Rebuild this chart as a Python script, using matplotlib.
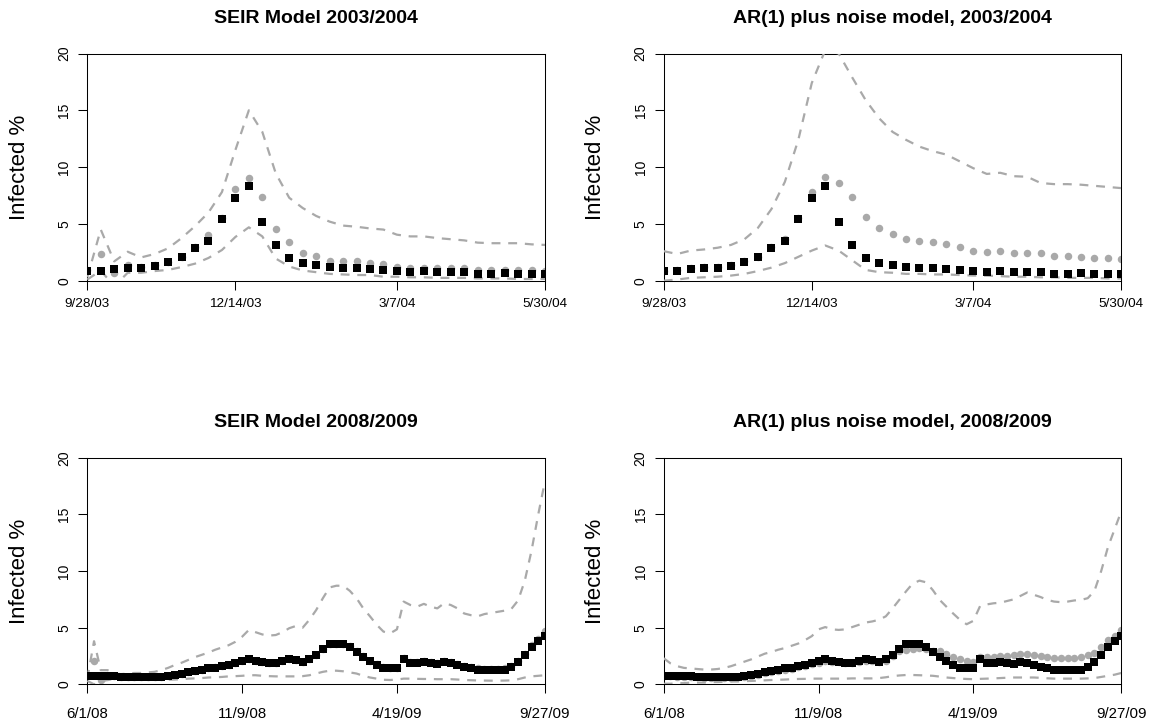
import matplotlib
matplotlib.use("Agg")
import matplotlib.pyplot as plt

plt.rcParams['font.family'] = ['Liberation Sans', 'DejaVu Sans']

# ---------------- data: season 2003/2004 (35 weekly points) ----------------
labels_0304 = ['9/28/03', '12/14/03', '3/7/04', '5/30/04']
ticks_0304 = [0, 11, 23, 34]
observed_0304 = [0.84, 0.84, 1.0, 1.1, 1.15, 1.3, 1.65, 2.1, 2.9, 3.5,
                 5.4, 7.3, 8.3, 5.2, 3.1, 2.0, 1.55, 1.4, 1.2, 1.1,
                 1.1, 1.0, 0.9, 0.84, 0.78, 0.84, 0.78, 0.78, 0.78, 0.63,
                 0.63, 0.7, 0.62, 0.6, 0.62]
seir_mean_0304 = [0.9, 2.35, 0.7, 1.4, 1.25, 1.4, 1.65, 2.1, 3.0, 4.0,
                  5.5, 8.1, 9.05, 7.35, 4.55, 3.4, 2.45, 2.15, 1.75, 1.7,
                  1.7, 1.6, 1.45, 1.25, 1.15, 1.15, 1.15, 1.1, 1.1, 0.95,
                  0.9, 0.9, 0.9, 0.9, 0.85]
seir_upper_0304 = [0.3, 4.5, 1.7, 2.55, 2.05, 2.35, 2.85, 3.75, 4.8, 6.0,
                   7.8, 11.5, 15.0, 13.1, 9.45, 7.3, 6.4, 5.7, 5.2, 4.85,
                   4.75, 4.6, 4.5, 4.05, 3.9, 3.9, 3.75, 3.65, 3.55, 3.35,
                   3.3, 3.3, 3.3, 3.2, 3.15]
seir_lower_0304 = [0.1, 0.9, -0.5, 0.7, 0.7, 0.85, 0.95, 1.2, 1.5, 2.0,
                   2.7, 3.85, 4.7, 3.9, 1.95, 1.25, 0.9, 0.75, 0.6, 0.55,
                   0.5, 0.5, 0.35, 0.35, 0.3, 0.3, 0.25, 0.25, 0.25, 0.2,
                   0.2, 0.2, 0.15, 0.15, 0.15]
ar_mean_0304 = [0.85, 0.9, 1.1, 1.2, 1.25, 1.35, 1.7, 2.1, 3.0, 3.7,
                5.5, 7.8, 9.15, 8.6, 7.35, 5.6, 4.6, 4.1, 3.65, 3.5,
                3.4, 3.25, 3.0, 2.65, 2.55, 2.6, 2.45, 2.45, 2.4, 2.2,
                2.2, 2.05, 2.0, 2.0, 1.9]
ar_upper_0304 = [2.6, 2.35, 2.65, 2.75, 2.9, 3.15, 3.65, 4.65, 6.3, 8.7,
                 12.4, 17.4, 20.3, 20.0, 17.9, 15.9, 14.3, 13.1, 12.4, 11.8,
                 11.4, 11.1, 10.5, 9.9, 9.4, 9.5, 9.2, 9.15, 8.6, 8.5,
                 8.5, 8.45, 8.35, 8.25, 8.15]
ar_lower_0304 = [0.0, 0.1, 0.25, 0.3, 0.35, 0.45, 0.6, 0.85, 1.15, 1.55,
                 2.1, 2.65, 3.1, 2.65, 1.8, 0.95, 0.75, 0.7, 0.6, 0.6,
                 0.55, 0.55, 0.5, 0.45, 0.45, 0.4, 0.35, 0.35, 0.3, 0.3,
                 0.25, 0.25, 0.25, 0.2, 0.2]

# ---------------- data: season 2008/2009 (69 weekly points) ----------------
labels_0809 = ['6/1/08', '11/9/08', '4/19/09', '9/27/09']
ticks_0809 = [0, 23, 46, 68]
observed_0809 = [0.75, 0.75, 0.72, 0.7, 0.7, 0.68, 0.66, 0.64, 0.62, 0.62, 0.62, 0.65,
                 0.75, 0.8, 0.95, 1.1, 1.2, 1.3, 1.4, 1.45, 1.6, 1.7, 1.85, 2.05, 2.2, 2.1, 2.0, 1.9, 1.9, 2.05,
                 2.25, 2.15, 2.0, 2.25, 2.6, 3.1, 3.55, 3.55, 3.55, 3.3, 2.85, 2.45, 2.05, 1.7, 1.45, 1.4, 1.4,
                 2.2, 1.9, 1.85, 2.0, 1.85, 1.8, 2.0, 1.9, 1.7, 1.5, 1.4, 1.3, 1.25, 1.25, 1.25,
                 1.3, 1.5, 1.95, 2.55, 3.3, 3.8, 4.3]
seir_mean_0809 = [0.8, 2.1, 0.4, 0.65, 0.7, 0.68, 0.66, 0.64, 0.62, 0.62, 0.62, 0.65,
                  0.75, 0.8, 0.95, 1.1, 1.2, 1.3, 1.4, 1.5, 1.6, 1.7, 1.85, 2.05, 2.2, 2.1, 2.0, 1.9, 1.9, 2.05,
                  2.25, 2.15, 2.0, 2.25, 2.6, 3.1, 3.6, 3.6, 3.6, 3.35, 2.9, 2.5, 2.1, 1.75, 1.5, 1.45, 1.45,
                  2.3, 2.0, 1.95, 2.1, 1.95, 1.9, 2.1, 2.0, 1.8, 1.6, 1.5, 1.4, 1.35, 1.35, 1.35,
                  1.4, 1.6, 2.1, 2.7, 3.5, 4.0, 4.7]
seir_upper_0809 = [0.5, 3.8, 1.25, 1.25, 0.95, 0.9, 0.95, 1.0, 1.0, 1.05, 1.1, 1.25,
                   1.45, 1.7, 1.9, 2.15, 2.4, 2.6, 2.8, 3.05, 3.25, 3.45, 3.75, 4.2, 4.8, 4.6, 4.4, 4.3, 4.35, 4.6,
                   4.95, 5.15, 5.0, 5.7, 6.55, 7.6, 8.55, 8.7, 8.7, 8.25, 7.6, 6.7, 6.0, 5.25, 4.65, 4.5, 4.85,
                   7.3, 7.0, 6.85, 7.1, 6.85, 6.7, 7.15, 7.0, 6.7, 6.25, 6.1, 6.0, 6.2, 6.3, 6.4,
                   6.5, 6.65, 7.4, 9.15, 11.8, 15.0, 17.95]
seir_lower_0809 = [0.3, 0.0, 0.2, 0.4, 0.45, 0.45, 0.45, 0.45, 0.45, 0.4, 0.4, 0.4,
                   0.4, 0.42, 0.45, 0.5, 0.52, 0.55, 0.6, 0.62, 0.65, 0.7, 0.72, 0.75, 0.8, 0.8, 0.75, 0.72, 0.7, 0.7,
                   0.7, 0.7, 0.72, 0.8, 0.95, 1.1, 1.2, 1.2, 1.15, 1.05, 0.95, 0.75, 0.6, 0.5, 0.4, 0.38, 0.42,
                   0.5, 0.5, 0.48, 0.47, 0.47, 0.45, 0.45, 0.45, 0.42, 0.38, 0.36, 0.34, 0.33, 0.32, 0.32,
                   0.33, 0.35, 0.45, 0.6, 0.7, 0.75, 0.8]
ar_mean_0809 = [0.7, 0.7, 0.68, 0.66, 0.64, 0.62, 0.6, 0.58, 0.58, 0.58, 0.6, 0.62,
                0.68, 0.72, 0.85, 1.0, 1.1, 1.2, 1.3, 1.35, 1.5, 1.6, 1.75, 1.9, 2.05, 2.0, 1.95, 1.85, 1.85, 2.0,
                2.1, 2.05, 2.0, 2.1, 2.5, 2.9, 3.0, 3.1, 3.2, 3.1, 2.95, 2.9, 2.7, 2.45, 2.25, 2.05, 1.95,
                2.4, 2.45, 2.45, 2.5, 2.5, 2.55, 2.7, 2.7, 2.6, 2.5, 2.45, 2.35, 2.3, 2.3, 2.3,
                2.45, 2.55, 2.75, 3.3, 3.9, 4.3, 4.75]
ar_upper_0809 = [2.3, 1.85, 1.6, 1.45, 1.4, 1.35, 1.3, 1.3, 1.35, 1.45, 1.6, 1.8,
                 2.0, 2.2, 2.45, 2.7, 2.85, 3.05, 3.2, 3.4, 3.6, 3.9, 4.25, 4.85, 5.05, 4.85, 4.8, 4.85, 5.05, 5.25,
                 5.45, 5.55, 5.7, 6.0, 6.7, 7.45, 8.2, 8.9, 9.15, 9.0, 8.3, 7.45, 6.85, 6.25, 5.7, 5.3, 5.6,
                 6.9, 7.05, 7.15, 7.2, 7.35, 7.5, 7.8, 8.1, 7.9, 7.7, 7.45, 7.3, 7.25, 7.3, 7.4,
                 7.45, 7.6, 8.25, 10.0, 12.1, 13.7, 15.3]
ar_lower_0809 = [0.05, 0.05, 0.1, 0.1, 0.15, 0.15, 0.15, 0.2, 0.2, 0.22, 0.25, 0.25,
                 0.28, 0.3, 0.32, 0.35, 0.38, 0.4, 0.42, 0.45, 0.47, 0.48, 0.5, 0.5, 0.5, 0.5, 0.5, 0.5, 0.52, 0.52,
                 0.52, 0.52, 0.55, 0.62, 0.72, 0.78, 0.82, 0.82, 0.8, 0.78, 0.75, 0.68, 0.6, 0.55, 0.5, 0.47, 0.45,
                 0.48, 0.5, 0.52, 0.55, 0.58, 0.6, 0.6, 0.6, 0.6, 0.57, 0.53, 0.5, 0.5, 0.5, 0.5,
                 0.5, 0.52, 0.55, 0.65, 0.75, 0.85, 1.0]

titles = ['SEIR Model 2003/2004', 'AR(1) plus noise model, 2003/2004',
          'SEIR Model 2008/2009', 'AR(1) plus noise model, 2008/2009']
y_label = 'Infected %'
y_ticks = [0, 5, 10, 15, 20]

GREY = '#A9A9A9'

W, H = 1153, 725
fig = plt.figure(figsize=(W / 100, H / 100), dpi=100)

def axes_rect(x0, y_top, x1, y_bot):
    return [x0 / W, 1 - y_bot / H, (x1 - x0) / W, (y_bot - y_top) / H]

rects = [axes_rect(87.3, 53.5, 545.0, 280.7),
         axes_rect(663.7, 53.5, 1121.4, 280.7),
         axes_rect(87.3, 457.7, 545.0, 684.3),
         axes_rect(663.7, 457.7, 1121.4, 684.3)]

panels = [
    (observed_0304, seir_mean_0304, seir_upper_0304, seir_lower_0304, ticks_0304, labels_0304),
    (observed_0304, ar_mean_0304, ar_upper_0304, ar_lower_0304, ticks_0304, labels_0304),
    (observed_0809, seir_mean_0809, seir_upper_0809, seir_lower_0809, ticks_0809, labels_0809),
    (observed_0809, ar_mean_0809, ar_upper_0809, ar_lower_0809, ticks_0809, labels_0809),
]

for k, (rect, title, (obs, mean, up, lo, tks, tlabs)) in enumerate(zip(rects, titles, panels)):
    ax = fig.add_axes(rect)
    x = list(range(len(obs)))
    ax.plot(x, mean, linestyle='none', marker='o', ms=5.4, mfc=GREY, mec=GREY, mew=0, zorder=2)
    ax.plot(x, up, color=GREY, lw=1.6, linestyle=(0, (4, 3.5)), zorder=3)
    ax.plot(x, lo, color=GREY, lw=1.6, linestyle=(0, (4, 3.5)), zorder=3)
    ax.plot(x, obs, linestyle='none', marker='s', ms=5.6, mfc='black', mec='black', mew=0, zorder=4)
    ax.set_xlim(0, len(obs) - 1)
    ax.set_ylim(0, 20)
    ax.set_xticks(tks)
    ax.set_xticklabels(tlabs)
    ax.set_yticks(y_ticks)
    ax.set_yticklabels([str(v) for v in y_ticks], rotation=90, va='center')
    ax.tick_params(axis='both', length=6.5, width=0.75, color='black')
    ax.tick_params(axis='y', pad=5, labelsize=10)
    if k < 2:
        ax.tick_params(axis='x', pad=6, labelsize=9.7)
    else:
        ax.tick_params(axis='x', pad=10, labelsize=10.8)
    for s in ax.spines.values():
        s.set_linewidth(0.75)
        s.set_color('black')
    ax.set_title(title, fontsize=14, fontweight='bold', pad=22)
    ax.set_ylabel(y_label, fontsize=16, va='center')
    ax.yaxis.set_label_coords(-0.148, 0.5)

fig.savefig('out.png', dpi=100)
